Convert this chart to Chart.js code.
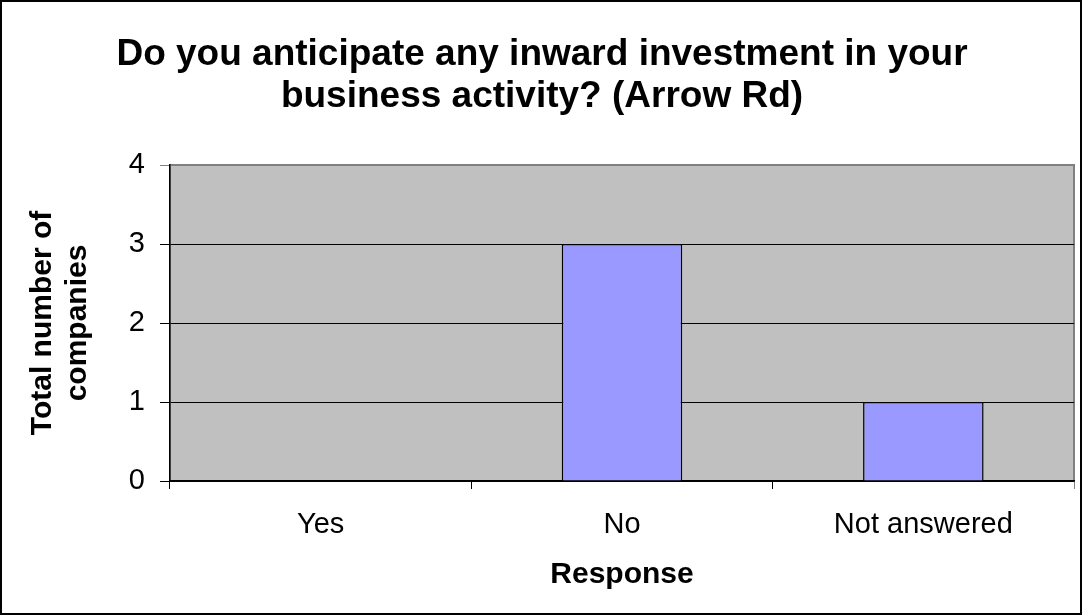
<!DOCTYPE html>
<html>
<head>
<meta charset="utf-8">
<script src="https://cdn.jsdelivr.net/npm/chart.js@4"></script>
<style>
  html, body { margin: 0; padding: 0; background: #fff; }
  #grafico { display: block; }
</style>
</head>
<body>
<canvas id="grafico" width="1082" height="615"></canvas>
<script>
// Datos del gráfico
var categorias = ['Yes', 'No', 'Not answered'];
var valores = [0, 3, 1];
var marcasY = [0, 1, 2, 3, 4];
var tituloGrafico = ['Do you anticipate any inward investment in your', 'business activity? (Arrow Rd)'];
var tituloEjeY = ['Total number of', 'companies'];
var tituloEjeX = 'Response';

var fuente = "Arial, 'Liberation Sans', sans-serif";
Chart.defaults.font.family = fuente;
Chart.defaults.color = '#000';

// Fondo gris del área de trazado y marco exterior
var fondo = {
  id: 'fondo',
  beforeDraw: function(chart) {
    var ctx = chart.ctx, a = chart.chartArea;
    ctx.save();
    ctx.fillStyle = '#fff';
    ctx.fillRect(0, 0, chart.width, chart.height);
    ctx.fillStyle = '#C0C0C0';
    ctx.fillRect(a.left, a.top, a.right - a.left, a.bottom - a.top);
    ctx.strokeStyle = '#808080';
    ctx.lineWidth = 2;
    ctx.strokeRect(a.left, a.top, a.right - a.left, a.bottom - a.top);
    ctx.restore();
  },
  afterDraw: function(chart) {
    var ctx = chart.ctx;
    ctx.save();
    ctx.strokeStyle = '#000';
    ctx.lineWidth = 2;
    ctx.strokeRect(1, 1, chart.width - 2, chart.height - 2);
    ctx.restore();
  }
};

new Chart(document.getElementById('grafico').getContext('2d'), {
  type: 'bar',
  data: {
    labels: categorias,
    datasets: [{
      label: 'Total',
      data: valores,
      backgroundColor: '#9999FF',
      borderColor: '#000',
      borderWidth: 1.5,
      barPercentage: 0.4,
      categoryPercentage: 1
    }]
  },
  options: {
    responsive: false,
    animation: false,
    devicePixelRatio: 1,
    layout: { padding: { left: 10, right: 8, top: 0, bottom: 0 } },
    plugins: {
      legend: { display: false },
      tooltip: { enabled: false },
      title: {
        display: true,
        text: tituloGrafico,
        color: '#000',
        font: { size: 37, weight: 'bold', lineHeight: 42 / 37 },
        padding: { top: 34, bottom: 47 }
      }
    },
    scales: {
      x: {
        grid: {
          offset: true,
          drawOnChartArea: false,
          tickLength: 8,
          color: function(c) { return c.type === 'tick' ? '#000' : '#808080'; }
        },
        border: { color: '#000', width: 1.5 },
        ticks: { color: '#000', font: { size: 29 }, padding: 19 },
        title: {
          display: true,
          text: tituloEjeX,
          color: '#000',
          font: { size: 30, weight: 'bold' },
          padding: { top: 0, bottom: 22 }
        },
        afterFit: function(s) { s.height = 134; }
      },
      y: {
        min: marcasY[0],
        max: marcasY[marcasY.length - 1],
        ticks: { stepSize: 1, color: '#000', font: { size: 29 }, padding: 15 },
        grid: {
          tickLength: 10,
          lineWidth: 1,
          color: function(c) { return c.tick && c.tick.value === 4 ? '#808080' : '#000'; }
        },
        border: { color: '#000', width: 1.5 },
        title: {
          display: true,
          text: tituloEjeY,
          color: '#000',
          font: { size: 30, weight: 'bold', lineHeight: 35 / 30 },
          padding: { top: 15, bottom: 0 }
        },
        afterFit: function(s) { s.width = 160; }
      }
    }
  },
  plugins: [fondo]
});
</script>
</body>
</html>
